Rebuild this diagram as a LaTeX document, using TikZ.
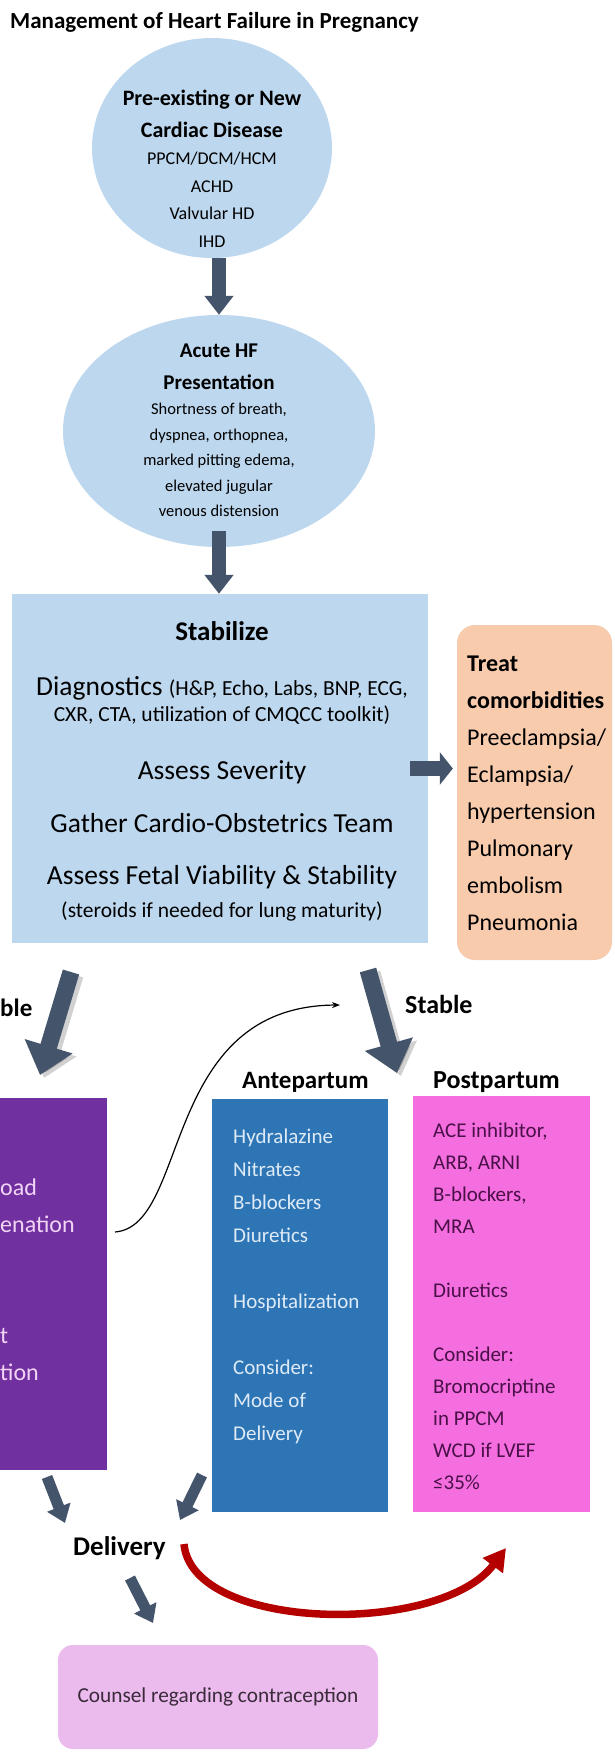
\documentclass[tikz,border=0pt]{standalone}
\usepackage{fontspec}
\setmainfont{Carlito}
\usetikzlibrary{shapes.geometric,arrows.meta}

\definecolor{paleblue}{HTML}{BDD7EE}
\definecolor{slate}{HTML}{44546A}
\definecolor{peach}{HTML}{F8CBAD}
\definecolor{grape}{HTML}{7030A0}
\definecolor{lilac}{HTML}{F2D4F6}
\definecolor{ocean}{HTML}{2E75B6}
\definecolor{ice}{HTML}{DEEBF7}
\definecolor{rosebox}{HTML}{F56EE0}
\definecolor{darkplum}{HTML}{4A1048}
\definecolor{mauve}{HTML}{EBBBEE}
\definecolor{ink}{HTML}{3A2A3A}
\definecolor{blood}{HTML}{B50000}

\newcommand{\fsz}[2]{\fontsize{#1}{#2}\selectfont}

\begin{document}
\begin{tikzpicture}[x=1pt,y=1pt,
  bubble/.style={ellipse, fill=paleblue, inner sep=0pt},
  panel/.style={rectangle, inner sep=0pt},
  block/.style={inner sep=0pt, anchor=base west, align=flush left},
  middle/.style={inner sep=0pt, anchor=base, align=flush center},
  bigarrow/.style={draw=slate, line width=14pt, -{Triangle[length=19pt,width=28pt]}},
  widearrow/.style={draw=slate, line width=15pt, -{Triangle[length=13pt,width=32pt]}},
  fatarrow/.style={draw=slate, line width=17pt, -{Triangle[length=30pt,width=48pt]}},
  smallarrow/.style={draw=slate, line width=11pt, -{Triangle[length=17pt,width=24pt]}}]

% page
\fill[white] (0,0) rectangle (614,-1754);
\useasboundingbox (0,0) rectangle (614,-1754);

\node[block, font=\bfseries\fsz{23}{23}] (title) at (10,-28) {Management of Heart Failure in Pregnancy};

% the two bubbles on top
\node[bubble, minimum width=240pt, minimum height=220pt] (disease) at (212,-148) {};
\node[middle, text width=230pt] (diseasetext) at (212,-105)
  {{\bfseries\fsz{22}{32}Pre-existing or New\\ Cardiac Disease\par}
   \fsz{18}{27.5}PPCM/DCM/HCM\\ ACHD\\ Valvular HD\\ IHD\par};

\node[bubble, minimum width=312pt, minimum height=232pt] (illness) at (219,-431) {};
\node[middle, text width=300pt] (illnesstext) at (219,-357)
  {{\bfseries\fsz{21}{32}Acute HF\\ Presentation\par}
   \fsz{16.5}{25.5}Shortness of breath,\\ dyspnea, orthopnea,\\ marked pitting edema,\\
   elevated jugular\\ venous distension\par};

\draw[bigarrow] (disease.south -| illness.north) -- (illness.north);

% stabilize
\node[panel, fill=paleblue, minimum width=416pt, minimum height=349pt] (stabilize) at (220,-768.5) {};
\node[middle, text width=410pt] (stabilizetext) at (222,-640)
  {{\bfseries\fsz{27}{27}Stabilize\par}
   {\fsz{27.5}{55}Diagnostics {\fsz{21.5}{55}(H\&P, Echo, Labs, BNP, ECG,}\par}
   {\fsz{21.5}{26}CXR, CTA, utilization of CMQCC toolkit)\par}
   {\fsz{27.5}{58}Assess Severity\par}
   {\fsz{27.5}{53}Gather Cardio-Obstetrics Team\par}
   {\fsz{27.5}{52}Assess Fetal Viability \& Stability\par}
   {\fsz{21.5}{33}(steroids if needed for lung maturity)\par}};

\draw[bigarrow, shorten <=-16pt] (illness.south) -- (illness.south |- stabilize.north);

% comorbidities
\node[panel, fill=peach, rounded corners=18pt, minimum width=155pt, minimum height=335pt] (treat) at (534.5,-792.5) {};
\node[block, text width=146pt, font=\fsz{24}{37}] (treattext) at (467,-671)
  {{\bfseries Treat\\ comorbidities}\\ Preeclampsia/\\ Eclampsia/\\ hypertension\\
   Pulmonary\\ embolism\\ Pneumonia};

\draw[widearrow, shorten <=-18pt, shorten >=4pt] (stabilize.east) -- (stabilize.east -| treat.west);

% unstable branch
\node[block, font=\bfseries\fsz{25}{25}] (unstablelabel) at (0,-1016) {ble};
\coordinate (unstablefrom) at (71,-972);
\coordinate (unstableto) at (40,-1075);
\draw[fatarrow, draw=black, opacity=.18, transform canvas={shift={(4pt,-3pt)}}] (unstablefrom) -- (unstableto);
\draw[fatarrow] (unstablefrom) -- (unstableto);

\node[panel, fill=grape, minimum width=107pt, minimum height=372pt] (unstable) at (53.5,-1284) {};
\node[block, text width=100pt, text=lilac, font=\fsz{24}{37}] (unstabletext) at (0,-1195)
  {oad\\ enation\\[74pt] t\\ tion};

\coordinate (loopfrom) at (115,-1232);
\coordinate (loopto) at (340,-1005);
\draw[line width=1.2pt, -{Stealth[length=8pt,width=6pt]}] (loopfrom) .. controls (190,-1226) and (160,-1006) .. (loopto);

% stable branch
\node[block, font=\bfseries\fsz{26}{26}] (stablelabel) at (405,-1013) {Stable};
\coordinate (stablefrom) at (368,-970);
\coordinate (stableto) at (397,-1073);
\draw[fatarrow, draw=black, opacity=.18, transform canvas={shift={(4pt,-3pt)}}] (stablefrom) -- (stableto);
\draw[fatarrow] (stablefrom) -- (stableto);

\node[block, font=\bfseries\fsz{25}{25}] (antehead) at (242,-1088) {Antepartum};
\node[panel, fill=ocean, minimum width=176pt, minimum height=413pt] (ante) at (300,-1305.5) {};
\node[block, text width=150pt, text=ice, font=\fsz{21}{33}] (antetext) at (233,-1143)
  {Hydralazine\\ Nitrates\\ B-blockers\\ Diuretics\\[33pt] Hospitalization\\[33pt]
   Consider:\\ Mode of\\ Delivery};

\node[block, font=\bfseries\fsz{26}{26}] (posthead) at (433,-1088) {Postpartum};
\node[panel, fill=rosebox, minimum width=177pt, minimum height=416pt] (post) at (501.5,-1304) {};
\node[block, text width=150pt, text=darkplum, font=\fsz{21}{32}] (posttext) at (433,-1137)
  {ACE inhibitor,\\ ARB, ARNI\\ B-blockers,\\ MRA\\[32pt] Diuretics\\[32pt]
   Consider:\\ Bromocriptine\\ in PPCM\\ WCD if LVEF\\ ≤35\%};

% delivery
\node[block, font=\bfseries\fsz{27}{27}] (delivery) at (73,-1555) {Delivery};
\coordinate (leftdrop) at (47,-1477);
\coordinate (leftland) at (65,-1523);
\coordinate (antedrop) at (202,-1475);
\coordinate (anteland) at (180,-1520);
\coordinate (counseldrop) at (130,-1578);
\coordinate (counselland) at (153,-1623);
\draw[smallarrow] (leftdrop) -- (leftland);
\draw[smallarrow] (antedrop) -- (anteland);
\draw[smallarrow] (counseldrop) -- (counselland);

\coordinate (redfrom) at (184,-1544);
\coordinate (redto) at (506,-1548);
\draw[blood, line width=7.5pt, -{Triangle[length=22pt,width=24pt]}] (redfrom) .. controls (192,-1632) and (440,-1636) .. (redto);

\node[panel, fill=mauve, rounded corners=15pt, minimum width=320pt, minimum height=104pt,
  text=ink, font=\fsz{21.3}{21.3}] (counsel) at (218,-1697) {Counsel regarding contraception};

\end{tikzpicture}
\end{document}
